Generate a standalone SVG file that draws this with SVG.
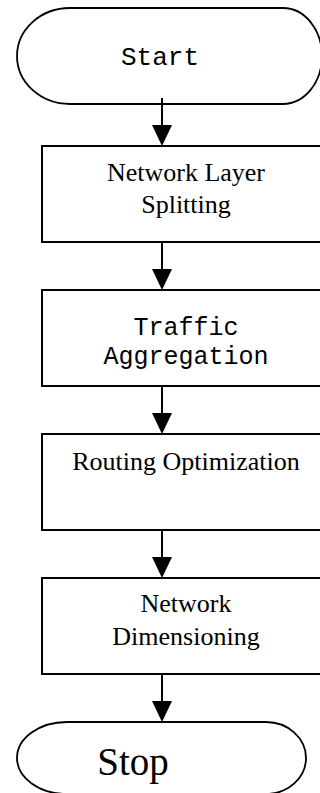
<svg xmlns="http://www.w3.org/2000/svg" width="320" height="793" viewBox="0 0 320 793">
<style>
.shape{fill:#fff;stroke:#000;stroke-width:1.8}
.box{fill:#fff;stroke:#000;stroke-width:2}
.serif{font-family:"Liberation Serif","Times New Roman",serif;font-size:26px;fill:#000;text-anchor:middle}
.mono{font-family:"Liberation Mono","Courier New",monospace;font-size:26px;fill:#000;text-anchor:middle}
.conn line{stroke:#000;stroke-width:2}
.conn polygon{fill:#000}
</style>
<g id="start">
<path class="shape" d="M70,8 H283 A39,48 0 0 1 283,104 H70 A53,48 0 0 1 70,8 Z"/>
<text class="mono" x="160" y="65">Start</text>
</g>
<g id="splitting">
<rect class="box" x="42" y="146" width="290" height="96"/>
<text class="serif" x="186" y="181">Network Layer</text>
<text class="serif" x="186" y="213">Splitting</text>
</g>
<g id="aggregation">
<rect class="box" x="42" y="290" width="290" height="96"/>
<text class="mono" x="186" y="335" style="font-size:25px">Traffic</text>
<text class="mono" x="186" y="364" style="font-size:25px">Aggregation</text>
</g>
<g id="routing">
<rect class="box" x="42" y="434" width="290" height="96"/>
<text class="serif" x="186" y="470">Routing Optimization</text>
</g>
<g id="dimensioning">
<rect class="box" x="42" y="578" width="290" height="96"/>
<text class="serif" x="186" y="612">Network</text>
<text class="serif" x="186" y="645">Dimensioning</text>
</g>
<g id="stop">
<path class="shape" d="M67,722 H266 A40,36 0 0 1 266,794 H67 A50,36 0 0 1 67,722 Z"/>
<text class="serif" x="133" y="775" style="font-size:39px">Stop</text>
</g>
<g id="connectors" class="conn">
<line x1="162" y1="98" x2="162" y2="130"/>
<polygon points="152,125 172,125 162,146"/>
<line x1="162" y1="242" x2="162" y2="274"/>
<polygon points="152,269 172,269 162,290"/>
<line x1="162" y1="386" x2="162" y2="418"/>
<polygon points="152,413 172,413 162,434"/>
<line x1="162" y1="530" x2="162" y2="562"/>
<polygon points="152,557 172,557 162,578"/>
<line x1="162" y1="674" x2="162" y2="706"/>
<polygon points="152,701 172,701 162,722"/>
</g>
</svg>
